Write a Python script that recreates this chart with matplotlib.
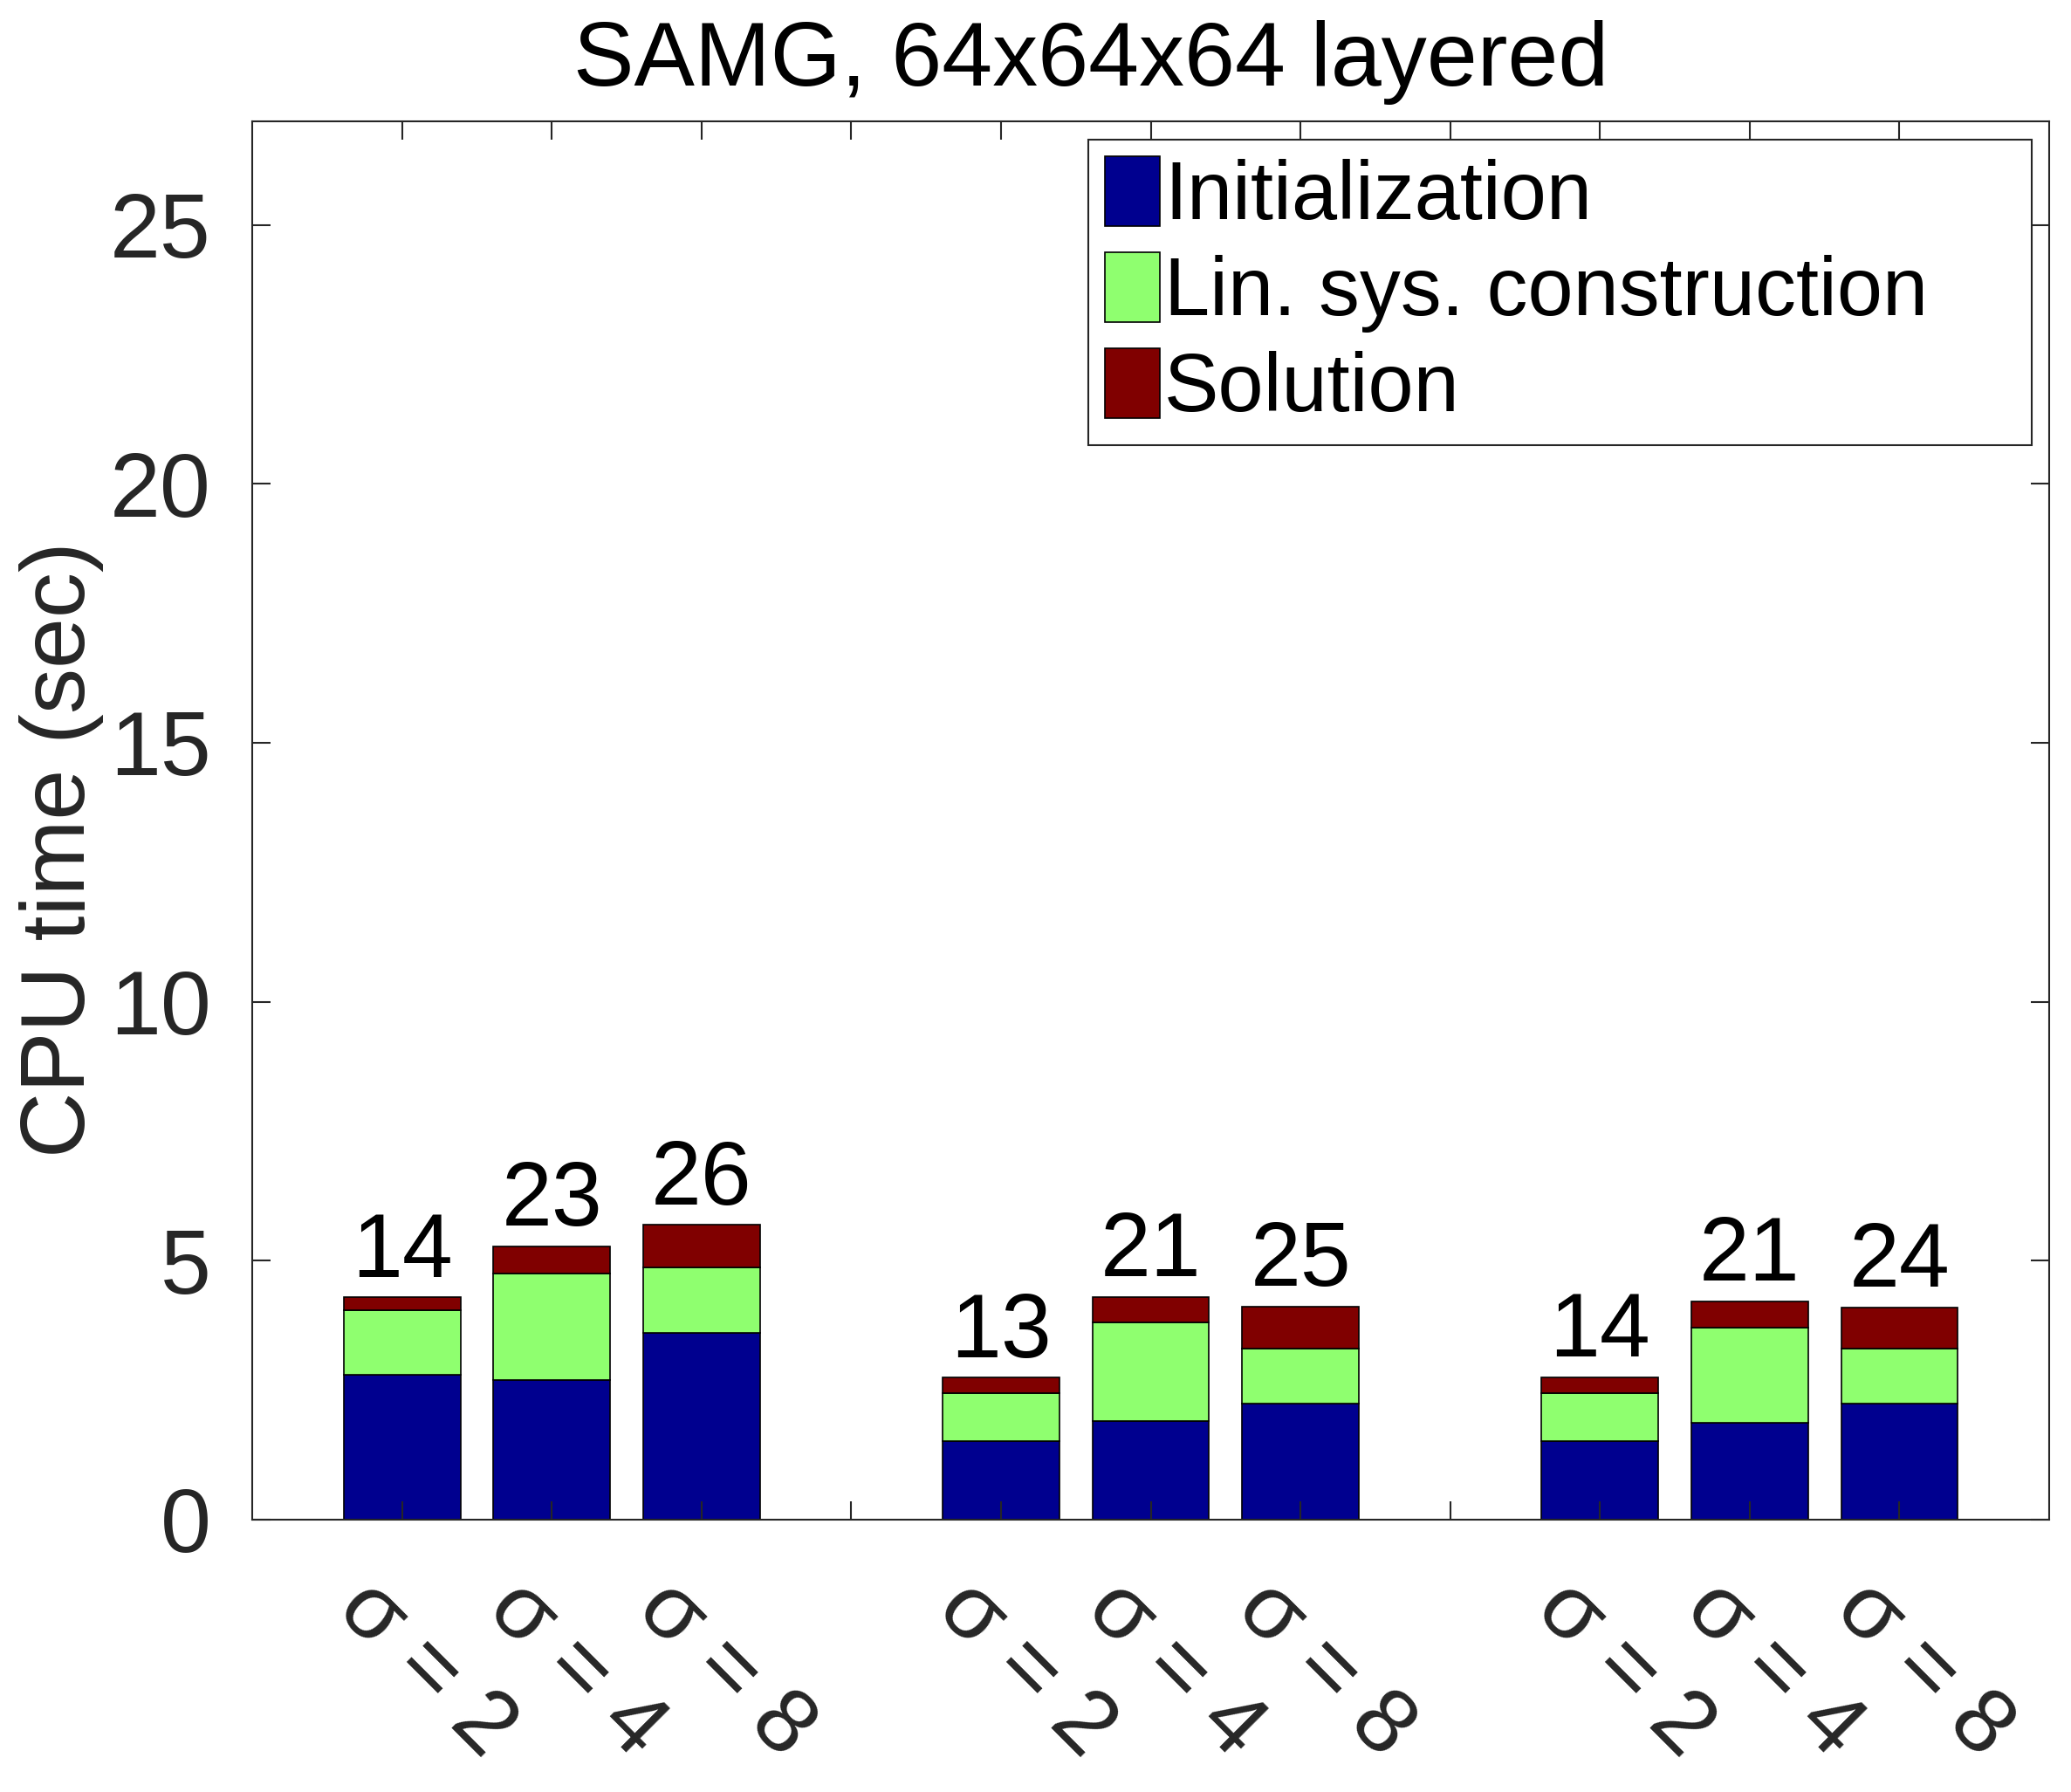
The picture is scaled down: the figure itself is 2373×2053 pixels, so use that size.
import matplotlib
matplotlib.use("Agg")
import matplotlib.pyplot as plt
import matplotlib.transforms as mtrans
import numpy as np

# ---- data ----
positions = [1, 2, 3, 5, 6, 7, 9, 10, 11]
sigma_labels = ["σ = 2", "σ = 4", "σ = 8"] * 3
init_time = [2.80, 2.69, 3.61, 1.52, 1.91, 2.24, 1.52, 1.87, 2.24]
linsys_time = [1.24, 2.06, 1.26, 0.92, 1.89, 1.06, 0.92, 1.84, 1.06]
solution_time = [0.25, 0.53, 0.82, 0.30, 0.50, 0.81, 0.31, 0.50, 0.80]
iterations = [14, 23, 26, 13, 21, 25, 14, 21, 24]
series_names = ["Initialization", "Lin. sys. construction", "Solution"]
title = "SAMG, 64x64x64 layered"
ylabel = "CPU time (sec)"
yticks = [0, 5, 10, 15, 20, 25]

colors = ["#00008F", "#8FFF6F", "#800000"]
axcol = "#262626"

plt.rcParams['font.family'] = ['Liberation Sans', 'DejaVu Sans']

fig = plt.figure(figsize=(23.73, 20.53), dpi=100)
ax = fig.add_axes([0.1218, 0.1520, 0.9895 - 0.1218, 0.9323 - 0.1520])

w = 0.78
ax.bar(positions, init_time, width=w, color=colors[0], edgecolor="black",
       linewidth=1.2, label=series_names[0])
bottom2 = np.array(init_time)
ax.bar(positions, linsys_time, width=w, bottom=bottom2, color=colors[1],
       edgecolor="black", linewidth=1.2, label=series_names[1])
bottom3 = bottom2 + np.array(linsys_time)
ax.bar(positions, solution_time, width=w, bottom=bottom3, color=colors[2],
       edgecolor="black", linewidth=1.2, label=series_names[2])
totals = bottom3 + np.array(solution_time)
for x, t, n in zip(positions, totals, iterations):
    ax.text(x, t + 0.4, str(n), ha="center", va="baseline", fontsize=75, color="black")

ax.set_xlim(0, 12)
ax.set_ylim(0, 27)
ax.set_yticks(yticks)
ax.set_yticklabels([str(v) for v in yticks])
xt = list(range(1, 12))
ax.set_xticks(xt)
lab = []
for t in xt:
    if t in positions:
        lab.append(sigma_labels[positions.index(t)])
    else:
        lab.append("")
ax.set_xticklabels(lab, rotation=-45, ha="left", va="center", rotation_mode="anchor")

for s in ax.spines.values():
    s.set_color(axcol)
    s.set_linewidth(1.5)
ax.tick_params(axis="both", direction="in", length=15, width=1.5, color=axcol,
               labelcolor=axcol, labelsize=75, top=True, right=True)
ax.tick_params(axis="y", pad=34)
ax.tick_params(axis="x", pad=78)

offset = mtrans.ScaledTranslation(-0.58, 0.22, fig.dpi_scale_trans)
for lbl in ax.get_xticklabels():
    lbl.set_transform(lbl.get_transform() + offset)

ax.set_title(title, fontsize=75, x=0.467, pad=29.5, color="black")
ax.set_ylabel(ylabel, fontsize=75, color=axcol)
ax.yaxis.set_label_coords(-0.0827, 0.479)

lx0 = (1247 - 289) / 2059
lx1 = (2328 - 289) / 2059
ly1 = (1741 - 160) / 1602
ly0 = (1741 - 503) / 1602
leg = ax.legend(loc="upper left", bbox_to_anchor=(lx0, ly0, lx1 - lx0, ly1 - ly0),
                mode="expand", borderaxespad=0, fontsize=67.5, handlelength=0.67,
                handleheight=0.94, handletextpad=0.06, borderpad=0.2,
                labelspacing=0.19, fancybox=False, framealpha=1, edgecolor=axcol)
leg.get_frame().set_linewidth(1.5)

fig.savefig("out.png", dpi=100)
